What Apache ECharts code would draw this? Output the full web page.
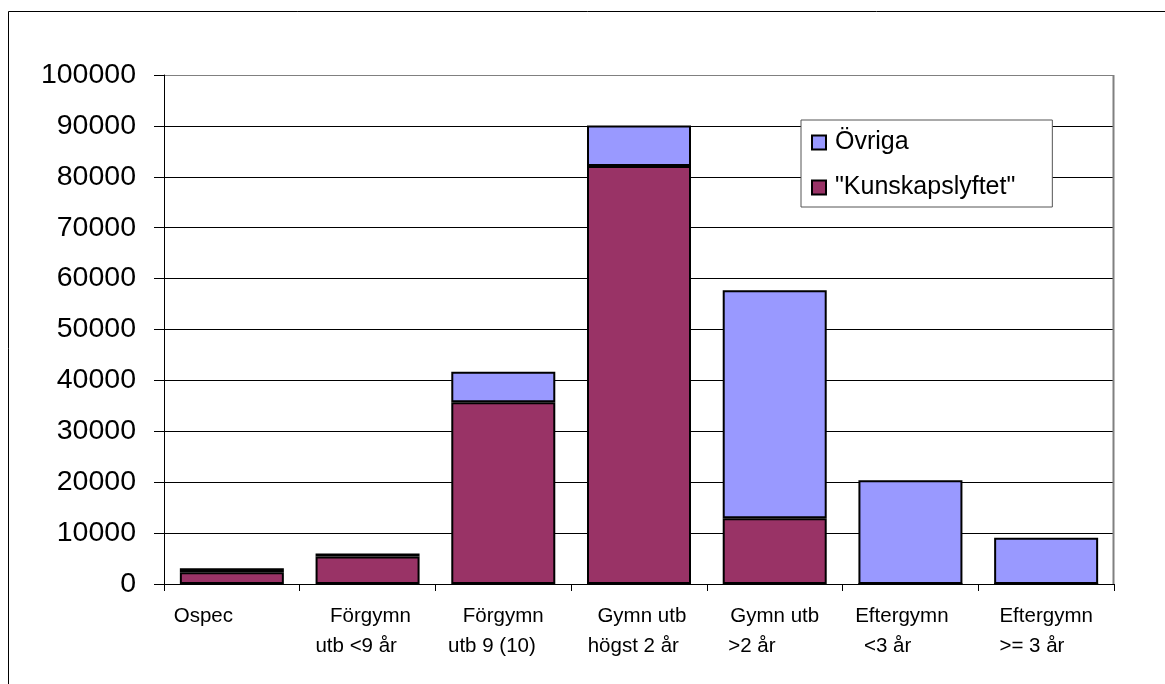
<!DOCTYPE html>
<html>
<head>
<meta charset="utf-8">
<script src="https://cdn.jsdelivr.net/npm/echarts@6/dist/echarts.min.js"></script>
<style>
html,body{margin:0;padding:0;background:#fff;}
#chart{width:1165px;height:684px;}
</style>
</head>
<body>
<div id="chart"></div>
<script>
const categories = ['Ospec', 'Förgymn utb <9 år', 'Förgymn utb 9 (10)', 'Gymn utb högst 2 år', 'Gymn utb >2 år', 'Eftergymn <3 år', 'Eftergymn >= 3 år'];
const tickLabels = [
  'Ospec          ',
  ' Förgymn\nutb <9 år    ',
  'Förgymn\nutb 9 (10)    ',
  ' Gymn utb\nhögst 2 år  ',
  'Gymn utb\n>2 år        ',
  'Eftergymn   \n<3 år        ',
  'Eftergymn\n>= 3 år     '
];
const kunskapslyftet = [2300, 5400, 35700, 82100, 12900, 0, 0];
const ovriga = [800, 600, 6000, 8000, 44800, 20400, 9100];
const seriesNames = ['"Kunskapslyftet"', 'Övriga'];
const yMin = 0, yMax = 100000, yInterval = 10000;

const chart = echarts.init(document.getElementById('chart'), null, {renderer: 'canvas'});
const font = 'Liberation Sans, Arial, sans-serif';
const gridColors = ['#000','#000','#000','#000','#000','#000','#000','#000','#000','#000','#808080'];

chart.setOption({
  backgroundColor: '#fff',
  animation: false,
  graphic: [{
    type: 'rect',
    shape: {x: 8.5, y: 11.5, width: 1180, height: 700},
    style: {fill: 'none', stroke: '#000', lineWidth: 1},
    silent: true, z: 0
  }, {
    type: 'line',
    shape: {x1: 1113.5, y1: 75, x2: 1113.5, y2: 584},
    style: {stroke: '#808080', lineWidth: 2},
    silent: true, z: 1
  }],
  grid: {left: 164, right: 51, top: 75, bottom: 100, containLabel: false},
  legend: {
    data: [seriesNames[1], seriesNames[0]],
    orient: 'vertical',
    left: 801, top: 120,
    padding: [10, 37, 7, 10],
    itemGap: 20,
    itemWidth: 14, itemHeight: 14,
    borderColor: '#555', borderWidth: 1,
    backgroundColor: '#fff',
    textStyle: {fontFamily: font, fontSize: 25, color: '#000', padding: [0, 0, 0, 4]},
    icon: 'rect'
  },
  xAxis: {
    type: 'category',
    data: categories,
    boundaryGap: true,
    axisLine: {lineStyle: {color: '#000', width: 1}},
    axisTick: {show: true, alignWithLabel: false, length: 7, lineStyle: {color: '#000'}},
    axisLabel: {
      interval: 0, margin: 17, color: '#000', fontFamily: font, fontSize: 20.5, lineHeight: 30,
      formatter: function (v, i) { return tickLabels[i]; }
    },
    splitLine: {show: false}
  },
  yAxis: {
    type: 'value',
    min: yMin, max: yMax, interval: yInterval,
    axisLine: {show: true, lineStyle: {color: '#000', width: 1}},
    axisTick: {show: true, length: 10, lineStyle: {color: '#000'}},
    axisLabel: {margin: 28, color: '#000', fontFamily: font, fontSize: 28.5,
      formatter: function (v) { return String(v); }},
    splitLine: {show: true, lineStyle: {color: gridColors, width: 1}}
  },
  series: [{
    name: seriesNames[0],
    type: 'bar',
    stack: 'total',
    data: kunskapslyftet,
    barWidth: 104,
    itemStyle: {color: '#993366', borderColor: '#000', borderWidth: 2}
  }, {
    name: seriesNames[1],
    type: 'bar',
    stack: 'total',
    data: ovriga,
    barWidth: 104,
    itemStyle: {color: '#9999FF', borderColor: '#000', borderWidth: 2}
  }]
});
</script>
</body>
</html>
